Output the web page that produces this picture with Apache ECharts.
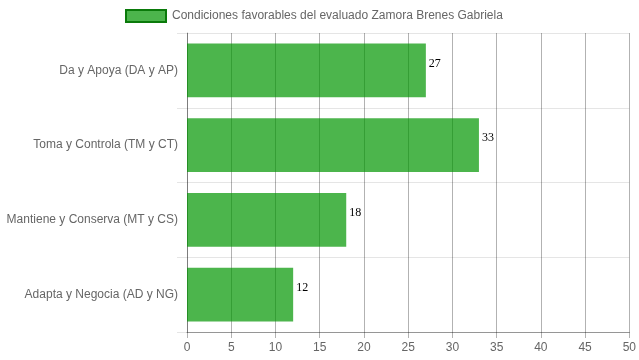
<!DOCTYPE html>
<html><head><meta charset="utf-8">
<script src="https://cdn.jsdelivr.net/npm/echarts@6/dist/echarts.min.js"></script>
<style>html,body{margin:0;padding:0;background:#fff}#c{width:639px;height:360px}</style>
</head><body><div id="c"></div>
<script>
const categories = ["Da y Apoya (DA y AP)", "Toma y Controla (TM y CT)", "Mantiene y Conserva (MT y CS)", "Adapta y Negocia (AD y NG)"];
const values = [27, 33, 18, 12];
const seriesName = "Condiciones favorables del evaluado Zamora Brenes Gabriela";
const xTicks = [0, 50, 5];

const chart = echarts.init(document.getElementById('c'), null, {renderer: 'canvas'});
chart.setOption({
  animation: false,
  legend: {
    top: 9, left: 125, padding: 0,
    itemWidth: 40, itemHeight: 12, itemGap: 6,
    textStyle: {color: '#666', fontFamily: 'Liberation Sans, Arial', fontSize: 12, padding: [0,0,0,1]},
    data: [{name: seriesName, icon: 'rect', itemStyle: {color: 'rgba(0,150,0,0.7)', borderColor: '#0a7a0a', borderWidth: 2}}]
  },
  grid: {left: 187, right: 9, top: 33, bottom: 28, containLabel: false},
  xAxis: {
    type: 'value', min: xTicks[0], max: xTicks[1], interval: xTicks[2],
    axisLine: {show: true, lineStyle: {color: 'rgba(0,0,0,0.35)'}},
    axisTick: {show: true, length: 6, lineStyle: {color: 'rgba(0,0,0,0.3)'}},
    axisLabel: {color: '#666', fontFamily: 'Liberation Sans, Arial', fontSize: 12, margin: 10},
    splitLine: {show: true, lineStyle: {color: 'rgba(0,0,0,0.3)', width: 1}}
  },
  yAxis: {
    type: 'category', data: categories, inverse: true,
    axisLine: {show: true, lineStyle: {color: 'rgba(0,0,0,0.3)'}},
    axisTick: {show: true, length: 10, alignWithLabel: false, lineStyle: {color: 'rgba(0,0,0,0.1)'}},
    axisLabel: {color: '#666', fontFamily: 'Liberation Sans, Arial', fontSize: 12, margin: 9},
    splitLine: {show: true, lineStyle: {color: 'rgba(0,0,0,0.1)'}}
  },
  series: [{
    name: seriesName, type: 'bar', data: values,
    barCategoryGap: '28%',
    itemStyle: {color: 'rgba(0,150,0,0.7)'},
    label: {show: true, position: 'right', distance: 3, offset: [0, -7], color: '#000', fontFamily: 'Liberation Serif, Times New Roman', fontSize: 12}
  }]
});
</script></body></html>
